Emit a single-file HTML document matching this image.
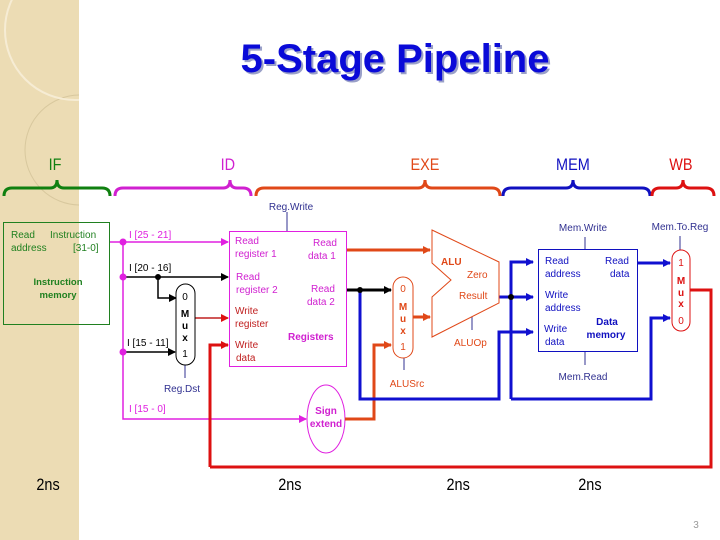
<!DOCTYPE html>
<html><head><meta charset="utf-8"><style>
body{margin:0;width:720px;height:540px;overflow:hidden;background:#fff}
svg{display:block}
text{font-family:"Liberation Sans",sans-serif}
</style></head><body>
<svg width="720" height="540" viewBox="0 0 720 540">
<defs>
<clipPath id="strip"><rect x="0" y="0" width="79" height="540"/></clipPath>
<marker id="am" markerWidth="8" markerHeight="8" refX="7" refY="4" orient="auto" markerUnits="userSpaceOnUse"><path d="M0,0L8,4L0,8z" fill="#e020e0"/></marker>
<marker id="ak" markerWidth="8" markerHeight="8" refX="7" refY="4" orient="auto" markerUnits="userSpaceOnUse"><path d="M0,0L8,4L0,8z" fill="#000"/></marker>
<marker id="ar" markerWidth="8" markerHeight="8" refX="7" refY="4" orient="auto" markerUnits="userSpaceOnUse"><path d="M0,0L8,4L0,8z" fill="#dd1111"/></marker>
<marker id="ao" markerWidth="8" markerHeight="8" refX="7" refY="4" orient="auto" markerUnits="userSpaceOnUse"><path d="M0,0L8,4L0,8z" fill="#e04818"/></marker>
<marker id="ab" markerWidth="8" markerHeight="8" refX="7" refY="4" orient="auto" markerUnits="userSpaceOnUse"><path d="M0,0L8,4L0,8z" fill="#1010d0"/></marker>
</defs>
<rect x="0" y="0" width="79" height="540" fill="#ecdcb4"/>
<g clip-path="url(#strip)">
<circle cx="80" cy="150" r="55" fill="none" stroke="#d8c89e" stroke-width="1"/>
<circle cx="75" cy="30" r="70" fill="none" stroke="#f6ecd4" stroke-width="2"/>
</g>
<text x="395" y="72" text-anchor="middle" font-size="40" font-weight="bold" fill="#9aa0c8" transform="translate(2,2)">5-Stage Pipeline</text>
<text x="395" y="72" text-anchor="middle" font-size="40" font-weight="bold" fill="#0a0ad8">5-Stage Pipeline</text>
<g font-size="17" text-anchor="middle" transform="scale(0.85,1)">
<text x="64.7" y="170" fill="#108010">IF</text>
<text x="268" y="170" fill="#d020d0">ID</text>
<text x="500" y="170" fill="#e04818">EXE</text>
<text x="674" y="170" fill="#1010c0">MEM</text>
<text x="801" y="170" fill="#dd1111">WB</text>
</g>
<g fill="none" stroke-width="3">
<path d="M4,196 Q4,188 12,188 L50,188 Q57,188 57,180 Q57,188 64,188 L102,188 Q110,188 110,196" stroke="#108010"/>
<path d="M115,196 Q115,188 123,188 L223,188 Q230,188 230,180 Q230,188 237,188 L243,188 Q251,188 251,196" stroke="#d020d0"/>
<path d="M256,196 Q256,188 264,188 L418,188 Q425,188 425,180 Q425,188 432,188 L492,188 Q500,188 500,196" stroke="#e04818"/>
<path d="M503,196 Q503,188 511,188 L566,188 Q573,188 573,180 Q573,188 580,188 L642,188 Q650,188 650,196" stroke="#1010c0"/>
<path d="M652,196 Q652,188 660,188 L676,188 Q683,188 683,180 Q683,188 690,188 L706,188 Q714,188 714,196" stroke="#dd1111"/>
</g>
<rect x="3.5" y="222.5" width="106" height="102" fill="none" stroke="#208020"/>
<g font-size="10" fill="#208020"><text x="11" y="238">Read</text><text x="50" y="238">Instruction</text><text x="11" y="251">address</text><text x="73" y="251">[31-0]</text></g>
<g font-size="9.5" fill="#208020" font-weight="bold" text-anchor="middle"><text x="58" y="285">Instruction</text><text x="58" y="298">memory</text></g>
<g stroke-width="1.5" fill="none">
<path d="M110,242 L228,242" stroke="#e020e0" marker-end="url(#am)"/>
<path d="M123,242 L123,419 L306,419" stroke="#e020e0" marker-end="url(#am)"/>
<path d="M123,277 L228,277" stroke="#000" marker-end="url(#ak)"/>
<path d="M158,277 L158,298 L176,298" stroke="#000" marker-end="url(#ak)"/>
<path d="M123,352 L175,352" stroke="#000" marker-end="url(#ak)"/>
<path d="M195,318 L228,318" stroke="#c02020" marker-end="url(#ar)"/>
<path d="M185,365 L185,378 M287,212 L287,231 M585,237 L585,249 M585,352 L585,365 M680,236 L680,250 M472,317 L472,330 M404,358 L404,370" stroke="#303090" stroke-width="1"/>
</g>
<g fill="#e020e0"><circle cx="123" cy="242" r="3.5"/><circle cx="123" cy="277" r="3.5"/><circle cx="123" cy="352" r="3.5"/></g>
<circle cx="158" cy="277" r="3" fill="#000"/>
<path d="M210,467 L210,345 L228,345" stroke="#dd1111" stroke-width="3" fill="none" marker-end="url(#ar)"/>
<path d="M210,467 L711,467 L711,290 L690,290" stroke="#dd1111" stroke-width="3" fill="none"/>
<g font-size="10" fill="#e020e0"><text x="129" y="238">I [25 - 21]</text><text x="129" y="412">I [15 - 0]</text></g>
<g font-size="10" fill="#000"><text x="129" y="271">I [20 - 16]</text><text x="127" y="346">I [15 - 11]</text></g>
<rect x="176" y="284" width="19" height="81" rx="9.5" fill="#fff" stroke="#000"/>
<g font-size="10" text-anchor="middle"><text x="185" y="300">0</text><text x="185" y="317" font-weight="bold">M</text><text x="185" y="329" font-weight="bold">u</text><text x="185" y="341" font-weight="bold">x</text><text x="185" y="357">1</text></g>
<text x="182" y="392" font-size="10" fill="#303090" text-anchor="middle">Reg.Dst</text>
<text x="291" y="210" font-size="10" fill="#303090" text-anchor="middle">Reg.Write</text>
<rect x="229.5" y="231.5" width="117" height="135" fill="none" stroke="#e020e0"/>
<g font-size="10" fill="#d020d0"><text x="235" y="244">Read</text><text x="235" y="257">register 1</text><text x="236" y="280">Read</text><text x="236" y="293">register 2</text><text x="313" y="246">Read</text><text x="308" y="259">data 1</text><text x="311" y="292">Read</text><text x="307" y="305">data 2</text></g>
<g font-size="10" fill="#c02020"><text x="235" y="314">Write</text><text x="235" y="327">register</text><text x="235" y="348">Write</text><text x="236" y="361">data</text></g>
<text x="288" y="340" font-size="10" font-weight="bold" fill="#d020d0">Registers</text>
<ellipse cx="326" cy="419" rx="19" ry="34" fill="#fff" stroke="#e020e0"/>
<g font-size="10" font-weight="bold" fill="#d020d0" text-anchor="middle"><text x="326" y="414">Sign</text><text x="326" y="427">extend</text></g>
<g stroke-width="3" fill="none">
<path d="M347,250 L430,250" stroke="#e04818" marker-end="url(#ao)"/>
<path d="M347,290 L391,290" stroke="#000" marker-end="url(#ak)"/>
<path d="M345,419 L374,419 L374,345 L391,345" stroke="#e04818" marker-end="url(#ao)"/>
<path d="M413,317 L430,317" stroke="#e04818" marker-end="url(#ao)"/>
<path d="M360,290 L360,399 L499,399 L499,332 L533,332" stroke="#1010d0" marker-end="url(#ab)"/>
<path d="M499,297 L533,297" stroke="#1010d0" marker-end="url(#ab)"/>
<path d="M511,399 L511,262 L533,262" stroke="#1010d0" marker-end="url(#ab)"/>
<path d="M511,399 L651,399 L651,318 L670,318" stroke="#1010d0" marker-end="url(#ab)"/>
<path d="M637,263 L670,263" stroke="#1010d0" marker-end="url(#ab)"/>
</g>
<circle cx="360" cy="290" r="3" fill="#000"/><circle cx="511" cy="297" r="3" fill="#000"/>
<rect x="393" y="277" width="20" height="81" rx="10" fill="#fff" stroke="#e04818"/>
<g font-size="10" text-anchor="middle" fill="#e04818"><text x="403" y="292">0</text><text x="403" y="310" font-weight="bold">M</text><text x="403" y="322" font-weight="bold">u</text><text x="403" y="334" font-weight="bold">x</text><text x="403" y="350">1</text></g>
<text x="407" y="387" font-size="10" fill="#e04818" text-anchor="middle">ALUSrc</text>
<path d="M432,230 L499,262 L499,303 L432,337 L432,297 L451,280 L432,263 Z" fill="#fff" stroke="#e04818"/>
<g font-size="10" fill="#e04818"><text x="441" y="265" font-weight="bold">ALU</text><text x="467" y="278">Zero</text><text x="459" y="299">Result</text><text x="454" y="346">ALUOp</text></g>
<rect x="538.5" y="249.5" width="99" height="102" fill="#fff" stroke="#1010c0"/>
<g font-size="10" fill="#1010c0"><text x="545" y="264">Read</text><text x="545" y="277">address</text><text x="605" y="264">Read</text><text x="610" y="277">data</text><text x="545" y="298">Write</text><text x="545" y="311">address</text><text x="544" y="332">Write</text><text x="545" y="345">data</text></g>
<g font-size="10" fill="#1010c0" font-weight="bold" text-anchor="middle"><text x="607" y="325">Data</text><text x="606" y="338">memory</text></g>
<g font-size="10" fill="#303090" text-anchor="middle"><text x="583" y="231">Mem.Write</text><text x="583" y="380">Mem.Read</text><text x="680" y="230">Mem.To.Reg</text></g>
<rect x="672" y="250" width="18" height="81" rx="9" fill="#fff" stroke="#dd1111"/>
<g font-size="10" text-anchor="middle" fill="#dd1111"><text x="681" y="266">1</text><text x="681" y="284" font-weight="bold">M</text><text x="681" y="296" font-weight="bold">u</text><text x="681" y="307" font-weight="bold">x</text><text x="681" y="324">0</text></g>
<g font-size="17" transform="scale(0.85,1)" text-anchor="middle"><text x="56.5" y="490">2ns</text><text x="341" y="490">2ns</text><text x="539" y="490">2ns</text><text x="694" y="490">2ns</text></g>
<text x="696" y="528" font-size="10" fill="#9a9a9a" text-anchor="middle">3</text>
</svg>
</body></html>
